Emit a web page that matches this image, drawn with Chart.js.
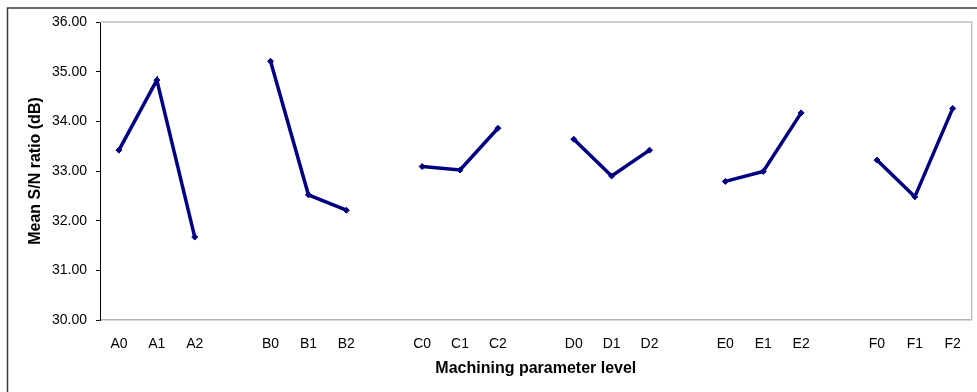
<!DOCTYPE html>
<html>
<head>
<meta charset="utf-8">
<script src="https://cdn.jsdelivr.net/npm/chart.js@4/dist/chart.umd.min.js"></script>
<style>
  html, body { margin: 0; padding: 0; background: #fff; }
  #wrap { width: 977px; height: 392px; position: relative; }
</style>
</head>
<body>
<div id="wrap"><canvas id="c" width="977" height="392"></canvas></div>
<script>
// Machining parameter levels; empty strings separate the factor groups
const levels = ['A0','A1','A2','','B0','B1','B2','','C0','C1','C2','','D0','D1','D2','','E0','E1','E2','','F0','F1','F2'];

// Mean S/N ratio (dB) for each level, null between groups so the lines break
const meanSN = [33.42, 34.83, 31.67, null,
                35.21, 32.52, 32.21, null,
                33.09, 33.02, 33.86, null,
                33.64, 32.90, 33.42, null,
                32.79, 32.99, 34.17, null,
                33.22, 32.48, 34.26];

const yMin = 30, yMax = 36, yStep = 1;

// Frame around the figure plus the light border of the plot area
const framePlugin = {
  id: 'frame',
  beforeDraw(chart) {
    const ctx = chart.ctx;
    ctx.save();
    ctx.fillStyle = '#fff';
    ctx.fillRect(0, 0, chart.width, chart.height);
    ctx.strokeStyle = '#3a3a3a';
    ctx.lineWidth = 1.5;
    ctx.beginPath();
    ctx.moveTo(7.5, chart.height);
    ctx.lineTo(7.5, 8);
    ctx.lineTo(chart.width, 8);
    ctx.stroke();
    ctx.restore();
  },
  beforeDatasetsDraw(chart) {
    const {left, right, top, bottom} = chart.chartArea;
    const ctx = chart.ctx;
    ctx.save();
    ctx.strokeStyle = '#c0c0c0';
    ctx.lineWidth = 1.5;
    ctx.beginPath();
    ctx.moveTo(left, top);
    ctx.lineTo(right, top);
    ctx.lineTo(right, bottom);
    ctx.stroke();
    ctx.restore();
  }
};

new Chart(document.getElementById('c'), {
  type: 'line',
  data: {
    labels: levels,
    datasets: [{
      data: meanSN,
      borderColor: '#000080',
      backgroundColor: '#000080',
      borderWidth: 3.5,
      pointStyle: 'rectRot',
      pointRadius: 3,
      pointBorderWidth: 1,
      spanGaps: false,
      tension: 0
    }]
  },
  options: {
    responsive: false,
    animation: false,
    layout: { padding: { left: 0, top: 22, right: 1, bottom: 0 } },
    plugins: { legend: { display: false }, tooltip: { enabled: false } },
    scales: {
      x: {
        offset: true,
        afterFit(s) { s.height = 72; },
        grid: { display: false, drawTicks: false },
        border: { display: true, color: '#b0b0b0', width: 1.5 },
        ticks: {
          autoSkip: false, maxRotation: 0, padding: 16,
          color: '#000', font: { family: 'Liberation Sans, Arial, sans-serif', size: 14 }
        },
        title: {
          display: true, text: 'Machining parameter level', color: '#000',
          font: { family: 'Liberation Sans, Arial, sans-serif', size: 16, weight: 'bold' },
          padding: { top: 0, bottom: 14 }
        }
      },
      y: {
        min: yMin, max: yMax,
        afterFit(s) { s.width = 100; },
        grid: { drawOnChartArea: false, drawTicks: true, tickLength: 4, color: '#000', lineWidth: 1 },
        border: { display: true, color: '#000', width: 1 },
        ticks: {
          stepSize: yStep, padding: 9, color: '#000',
          font: { family: 'Liberation Sans, Arial, sans-serif', size: 14 },
          callback: v => Number(v).toFixed(2)
        },
        title: {
          display: true, text: 'Mean S/N ratio (dB)', color: '#000',
          font: { family: 'Liberation Sans, Arial, sans-serif', size: 16, weight: 'bold' },
          padding: { top: 26, bottom: 0 }
        }
      }
    }
  },
  plugins: [framePlugin]
});
</script>
</body>
</html>
